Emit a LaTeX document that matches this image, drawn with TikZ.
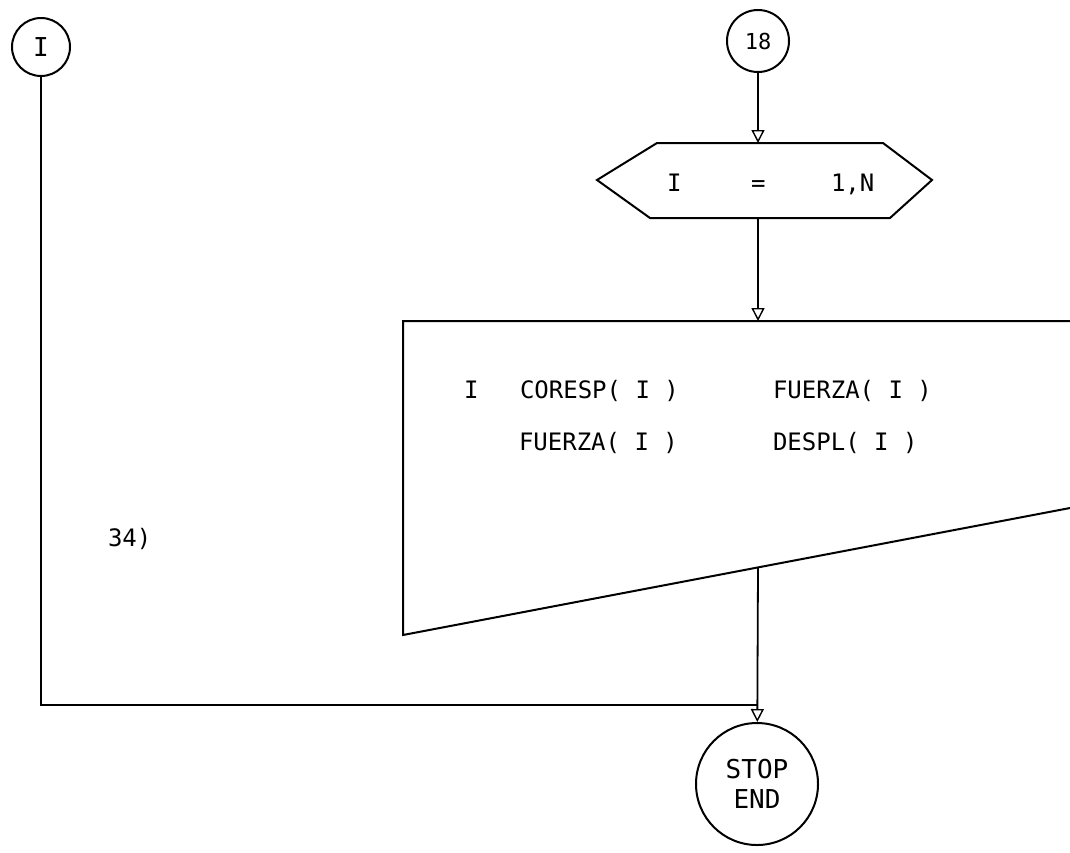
\documentclass[tikz,border=0pt]{standalone}
\usepackage{fontspec}
\setmonofont{DejaVu Sans Mono}
\usetikzlibrary{arrows.meta}
\begin{document}
\begin{tikzpicture}[x=1pt,y=-1pt,line width=2pt,
  conn/.style={circle,draw,line width=2pt,inner sep=0pt},
  txt/.style={font=\ttfamily\fontsize{24}{24}\selectfont,inner sep=0pt,anchor=base west},
  arr/.style={line width=1.8pt,-{Triangle[open,length=13pt,width=13pt,line width=1.4pt]}},
  line/.style={line width=2pt}]
\useasboundingbox (0,0) rectangle (1070,852);

% connectors
\node[conn,minimum size=58pt,font=\ttfamily\fontsize{26}{26}\selectfont] (ci) at (41,47) {I};
\node[conn,minimum size=62pt,font=\ttfamily\fontsize{22}{22}\selectfont] (c18) at (758,41) {18};

% loop hexagon
\coordinate (hexT) at (758,143);
\coordinate (hexB) at (758,218);
\draw[line] (657,143) -- (883,143) -- (932,180) -- (890,218) -- (650,218) -- (597,180) -- cycle;
\node[txt] (hi) at (666,191) {I};
\node[txt] (heq) at (750,191) {=};
\node[txt] (hn) at (830,191) {1,N};

% output (print) box
\coordinate (boxT) at (758,321);
\coordinate (boxB) at (758,567.4);
\draw[line] (1070,321) -- (403,321) -- (403,635) -- (1070,508);
\node[txt] (t1) at (463,398) {I};
\node[txt] (t2) at (519,398) {CORESP( I )};
\node[txt] (t3) at (772,398) {FUERZA( I )};
\node[txt] (t4) at (518,450) {FUERZA( I )};
\node[txt] (t5) at (772,450) {DESPL( I )};

\node[txt] (lbl) at (107,546) {34)};

% stop
\node[circle,draw,line width=2pt,minimum size=122pt,inner sep=0pt,align=center,
      font=\ttfamily\fontsize{26}{30}\selectfont] (stop) at (757,784) {STOP\\END};
\coordinate (join) at (757,705);

% connectors
\draw[arr] (c18) -- (hexT);
\draw[arr] (hexB) -- (boxT);
\draw[line] (ci) |- (join);
\draw[arr] (boxB) -- (stop);
\end{tikzpicture}
\end{document}
